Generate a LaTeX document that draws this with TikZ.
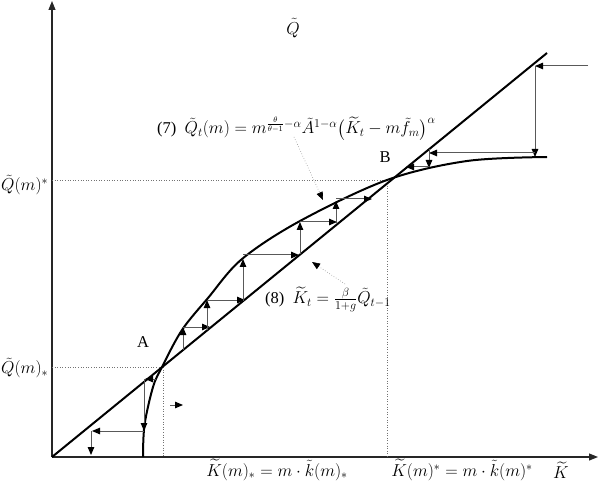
\documentclass[tikz,border=0pt]{standalone}
\usepackage{amsmath}
\usepackage{fontspec}
\setmainfont{Liberation Serif}
\usetikzlibrary{arrows.meta}
\tikzset{
  axis/.style={draw=black!85, line width=1.1pt, -{Triangle[length=9pt,width=7pt]}},
  thick curve/.style={draw=black, line width=2pt},
  cob/.style={draw=black!65, line width=1pt, -{Triangle[length=8pt,width=6.5pt,color=black]}},
  guide/.style={draw=black!55, line width=0.6pt, dotted},
  note/.style={draw=black!45, line width=0.6pt, dotted, -{Triangle[length=8pt,width=6.5pt,color=black]}},
  lbl/.style={inner sep=0pt, font=\fontsize{16.5}{19}\selectfont},
}
\begin{document}
\begin{tikzpicture}[x=1pt,y=-1pt]
\useasboundingbox (0,0) rectangle (600,481);
% axes
\coordinate (O) at (52,457);
\coordinate (Ytop) at (52,1);
\coordinate (Xend) at (598,457);
\draw[axis] (O) -- (Ytop);
\draw[axis] (O) -- (Xend);
% guide lines
\coordinate (A) at (162,367);
\coordinate (B) at (387,180);
\coordinate (QsY) at (52,180);
\coordinate (QaY) at (52,367);
\coordinate (KsX) at (387,457);
\coordinate (KaX) at (163,457);
\draw[guide] (QsY) -- (B) -- (KsX);
\draw[guide] (QaY) -- (A);
\draw[guide] (163,367) -- (KaX);
% diagonal line (8)
\coordinate (Lend) at (547,53);
\draw[thick curve] (O) -- (Lend);
% curve (7)
\draw[thick curve] plot[smooth, tension=0.55] coordinates {(143,457) (144.5,425) (153,387) (162,367) (182,330) (208,298) (242,259) (300,221) (387,180) (467,161) (547,157)};
% cobweb upper
\coordinate (u0) at (588,66);
\coordinate (u1) at (535,66);
\coordinate (u2) at (535,157);
\coordinate (u3) at (535,153);
\coordinate (u4) at (429,153);
\coordinate (u5) at (429,149);
\coordinate (u6) at (429,168);
\coordinate (u7) at (429,167);
\coordinate (u8) at (406,167);
\draw[cob] (u0) -- (u1);
\draw[cob] (u1) -- (u2);
\draw[cob] (u3) -- (u4);
\draw[cob] (u5) -- (u6);
\draw[cob] (u7) -- (u8);
% cobweb middle
\coordinate (m1) at (183,350);
\coordinate (m2) at (183,327);
\coordinate (m3) at (210,327);
\coordinate (m4) at (207,330);
\coordinate (m5) at (207,300);
\coordinate (m6) at (245,300);
\coordinate (m7) at (243,301);
\coordinate (m8) at (243,259);
\coordinate (m9) at (243,255);
\coordinate (m10) at (299,255);
\coordinate (m11) at (300,254);
\coordinate (m12) at (300,222);
\coordinate (m13) at (337,222);
\coordinate (m14) at (336,223);
\coordinate (m15) at (336,201);
\coordinate (m16) at (336,199);
\coordinate (m17) at (372,199);
\draw[cob] (m1) -- (m2);
\draw[cob] (m2) -- (m3);
\draw[cob] (m4) -- (m5);
\draw[cob] (m5) -- (m6);
\draw[cob] (m7) -- (m8);
\draw[cob] (m9) -- (m10);
\draw[cob] (m11) -- (m12);
\draw[cob] (m12) -- (m13);
\draw[cob] (m14) -- (m15);
\draw[cob] (m16) -- (m17);
% cobweb lower
\coordinate (l1) at (156,379);
\coordinate (l2) at (145,379);
\coordinate (l3) at (144,379);
\coordinate (l4) at (144,431);
\coordinate (l5) at (92,431);
\coordinate (l6) at (91,431);
\coordinate (l7) at (91,455);
\coordinate (r1) at (170,405);
\coordinate (r2) at (183,405);
\draw[cob] (l1) -- (l2);
\draw[cob] (l3) -- (l4);
\draw[cob] (l4) -- (l5);
\draw[cob] (l6) -- (l7);
\draw[cob] (r1) -- (r2);
% labels
\node[lbl] (Qtop) at (293,28) {$\tilde{Q}$};
\node[lbl, anchor=base west] (eq7) at (157,134) {(7)\ \ $\tilde{Q}_t(m)=m^{\frac{\theta}{\theta-1}-\alpha}\tilde{A}^{1-\alpha}\big(\widetilde{K}_t-m\tilde{f}_m\big)^{\alpha}$};
\node[lbl, anchor=base west] (eq8) at (265,304) {(8)\ \ $\widetilde{K}_t=\frac{\beta}{1+g}\tilde{Q}_{t-1}$};
\node[lbl] (Blab) at (385,157) {B};
\node[lbl] (Alab) at (143,342) {A};
\node[lbl, anchor=west] (Qs) at (1,185) {$\tilde{Q}(m)^{*}$};
\node[lbl, anchor=west] (Qa) at (1,368) {$\tilde{Q}(m)_{*}$};
\node[lbl] (Ka) at (277,470) {$\widetilde{K}(m)_{*}=m\cdot\tilde{k}(m)_{*}$};
\node[lbl] (Ks) at (462,470) {$\widetilde{K}(m)^{*}=m\cdot\tilde{k}(m)^{*}$};
\node[lbl, anchor=west] (Kax) at (553,470) {$\widetilde{K}$};
% annotation arrows
\coordinate (n7s) at (294,137);
\coordinate (n7e) at (323,200);
\coordinate (n8s) at (345,284);
\coordinate (n8e) at (312,262);
\draw[note] (n7s) -- (n7e);
\draw[note] (n8s) -- (n8e);
\end{tikzpicture}
\end{document}
